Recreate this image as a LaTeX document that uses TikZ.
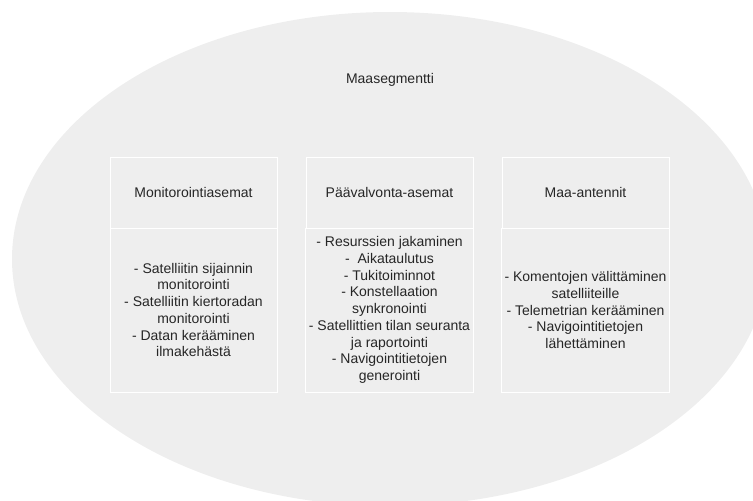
\documentclass[tikz,border=0pt]{standalone}
\usepackage{fontspec}
\setmainfont{Liberation Sans}
\usepackage{xcolor}
\usepackage{tikz}
\usetikzlibrary{positioning, shapes.geometric}
\definecolor{segfill}{HTML}{EEEEEE}
\definecolor{txt}{HTML}{262626}

\begin{document}
\begin{tikzpicture}[x=1pt, y=-1pt,
    segment/.style={ellipse, fill=segfill, draw=none, inner sep=0pt,
      minimum width=756pt, minimum height=494pt},
    label/.style={text=txt, font=\fontsize{14}{16.7}\selectfont, align=center},
    head/.style={label, rectangle, draw=white, fill=segfill, line width=1pt,
      outer sep=0pt, minimum width=167pt, minimum height=71pt},
    body/.style={head, minimum height=164pt}
]
\useasboundingbox (0,0) rectangle (753,501);
\node[segment] (seg) at (390,259) {};
\node[label] (title) at (390,80) {Maasegmentti};
\node[head] (mon) at (193.5,192.5) {Monitorointiasemat};
\node[head, right=29pt of mon] (pva) {Päävalvonta-asemat};
\node[head, right=29pt of pva] (ant) {Maa-antennit};
\node[body, below=0pt of mon] (monbody)
  {- Satelliitin sijainnin\\monitorointi\\- Satelliitin kiertoradan\\monitorointi\\- Datan kerääminen\\ilmakehästä};
\node[body, below=0pt of pva] (pvabody)
  {- Resurssien jakaminen\\- \ Aikataulutus\\- Tukitoiminnot\\- Konstellaation\\synkronointi\\- Satellittien tilan seuranta\\ja raportointi\\- Navigointitietojen\\generointi};
\node[body, below=0pt of ant] (antbody)
  {- Komentojen välittäminen\\satelliiteille\\- Telemetrian kerääminen\\- Navigointitietojen\\lähettäminen};
\end{tikzpicture}
\end{document}
